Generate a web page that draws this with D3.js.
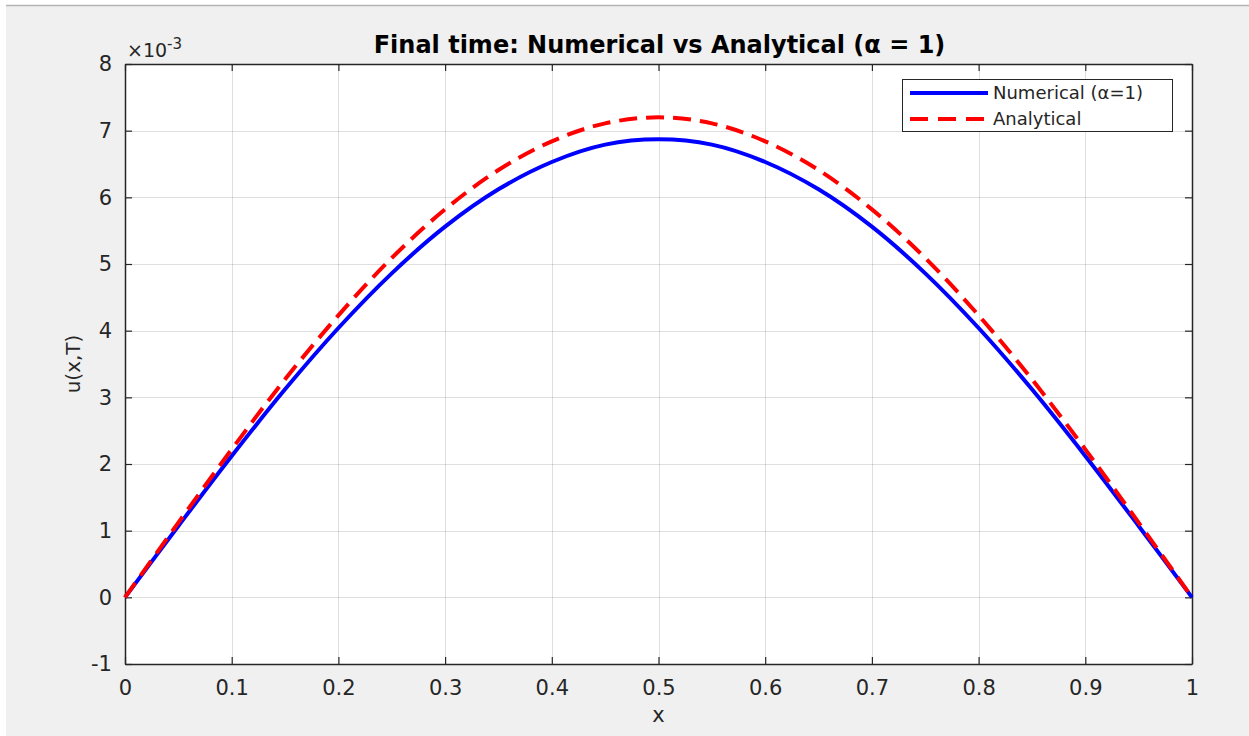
<!DOCTYPE html>
<html>
<head>
<meta charset="utf-8">
<script src="https://cdn.jsdelivr.net/npm/d3@7"></script>
<style>
  body { margin: 0; background: #fff; }
  #chart { width: 1249px; height: 736px; }
  text { font-family: "DejaVu Sans", "Liberation Sans", Arial, sans-serif; fill: #262626; }
</style>
</head>
<body>
<div id="chart"></div>
<script>
// values, units of 1e-3
const xs = [0, 0.05, 0.1, 0.15, 0.2, 0.25, 0.3, 0.35, 0.4, 0.45, 0.5,
            0.55, 0.6, 0.65, 0.7, 0.75, 0.8, 0.85, 0.9, 0.95, 1];
const numerical = [0, 1.07, 2.12, 3.12, 4.04, 4.86, 5.56, 6.12, 6.53, 6.79, 6.87,
                   6.79, 6.53, 6.12, 5.56, 4.86, 4.04, 3.12, 2.12, 1.07, 0];
const analytical = [0, 1.12, 2.22, 3.27, 4.23, 5.09, 5.82, 6.41, 6.84, 7.11, 7.20,
                    7.11, 6.84, 6.41, 5.82, 5.09, 4.23, 3.27, 2.22, 1.12, 0];
const xTicks = [0, 0.1, 0.2, 0.3, 0.4, 0.5, 0.6, 0.7, 0.8, 0.9, 1];
const yTicks = [-1, 0, 1, 2, 3, 4, 5, 6, 7, 8];

const width = 1249;
const height = 736;
const margin = { top: 64, left: 125, right: 57, bottom: 72 };

const svg = d3.select("#chart")
    .append("svg")
    .attr("width", width)
    .attr("height", height);

// figure background
svg.append("rect").attr("x", 6).attr("y", 5).attr("width", width - 6).attr("height", height - 5)
    .attr("fill", "#f0f0f0");
svg.append("line").attr("x1", 6).attr("x2", width).attr("y1", 5.5).attr("y2", 5.5)
    .attr("stroke", "#b4b4b4").attr("stroke-width", 1.5);

const x = d3.scaleLinear().domain([0, 1]).range([margin.left, width - margin.right]);
const y = d3.scaleLinear().domain([-1, 8]).range([height - margin.bottom, margin.top]);

const x0 = x(0), x1 = x(1), y0 = y(-1), y1 = y(8);

svg.append("rect").attr("x", x0).attr("y", y1).attr("width", x1 - x0).attr("height", y0 - y1)
    .attr("fill", "#fff");

// grid
const grid = svg.append("g").attr("stroke", "#262626").attr("stroke-opacity", 0.15).attr("stroke-width", 1);
grid.selectAll(".gx").data(xTicks.slice(1, -1)).join("line")
    .attr("x1", d => Math.round(x(d)) + 0.5).attr("x2", d => Math.round(x(d)) + 0.5)
    .attr("y1", y1).attr("y2", y0);
grid.selectAll(".gy").data(yTicks.slice(1, -1)).join("line")
    .attr("y1", d => Math.round(y(d)) + 0.5).attr("y2", d => Math.round(y(d)) + 0.5)
    .attr("x1", x0).attr("x2", x1);

// axes with inward ticks on all four sides
const tk = 7;
const xAxisB = d3.axisBottom(x).tickValues(xTicks).tickSizeInner(-tk).tickSizeOuter(0).tickPadding(16)
    .tickFormat(d => String(d));
const xAxisT = d3.axisTop(x).tickValues(xTicks).tickSizeInner(-tk).tickSizeOuter(0).tickFormat("");
const yAxisL = d3.axisLeft(y).tickValues(yTicks).tickSizeInner(-tk).tickSizeOuter(0).tickPadding(13)
    .tickFormat(d => String(d));
const yAxisR = d3.axisRight(y).tickValues(yTicks).tickSizeInner(-tk).tickSizeOuter(0).tickFormat("");

function styleAxis(g) {
    g.attr("font-family", null).attr("font-size", null);
    g.select(".domain").attr("stroke", "#262626").attr("stroke-width", 1.5);
    g.selectAll(".tick line").attr("stroke", "#262626").attr("stroke-width", 1.2);
    g.selectAll(".tick text").attr("fill", "#262626").style("font-size", "21px");
}

svg.append("g").attr("transform", `translate(0,${y0})`).call(xAxisB).call(styleAxis);
svg.append("g").attr("transform", `translate(0,${y1})`).call(xAxisT).call(styleAxis);
svg.append("g").attr("transform", `translate(${x0},0)`).call(yAxisL).call(styleAxis);
svg.append("g").attr("transform", `translate(${x1},0)`).call(yAxisR).call(styleAxis);

// curves
const line = d3.line()
    .x((d, i) => x(xs[i]))
    .y(d => y(d))
    .curve(d3.curveCatmullRom.alpha(0.5));

const plot = svg.append("g");
plot.append("path").datum(numerical)
    .attr("d", line).attr("fill", "none")
    .attr("stroke", "#0000ff").attr("stroke-width", 4);
plot.append("path").datum(analytical)
    .attr("d", line).attr("fill", "none")
    .attr("stroke", "#ff0000").attr("stroke-width", 4)
    .attr("stroke-dasharray", "18,9");

// title and labels
svg.append("text").attr("x", (x0 + x1) / 2 + 1).attr("y", 53).attr("text-anchor", "middle")
    .style("font-size", "24px").style("font-weight", "bold").style("fill", "#000")
    .text("Final time: Numerical vs Analytical (\u03b1 = 1)");

svg.append("text").attr("x", (x0 + x1) / 2).attr("y", 722).attr("text-anchor", "middle")
    .style("font-size", "21px").text("x");

svg.append("text").attr("transform", `translate(80,${(y0 + y1) / 2}) rotate(-90)`)
    .attr("text-anchor", "middle").style("font-size", "20px").text("u(x,T)");

const expo = svg.append("text").attr("x", 127).attr("y", 57).style("font-size", "19px");
expo.append("tspan").text("\u00d710");
expo.append("tspan").attr("dy", -8).style("font-size", "15px").text("-3");

// legend
const lg = svg.append("g");
lg.append("rect").attr("x", 902.5).attr("y", 79.5).attr("width", 270).attr("height", 52)
    .attr("fill", "#fff").attr("stroke", "#262626").attr("stroke-width", 1);
const items = [
    { label: "Numerical (\u03b1=1)", color: "#0000ff", dash: null },
    { label: "Analytical", color: "#ff0000", dash: "18,10" }
];
items.forEach((d, i) => {
    const cy = 93 + i * 26;
    lg.append("line").attr("x1", 910).attr("x2", 988).attr("y1", cy).attr("y2", cy)
        .attr("stroke", d.color).attr("stroke-width", 4)
        .attr("stroke-dasharray", d.dash);
    lg.append("text").attr("x", 993).attr("y", cy).attr("dy", "0.35em")
        .style("font-size", "18px").text(d.label);
});
</script>
</body>
</html>
